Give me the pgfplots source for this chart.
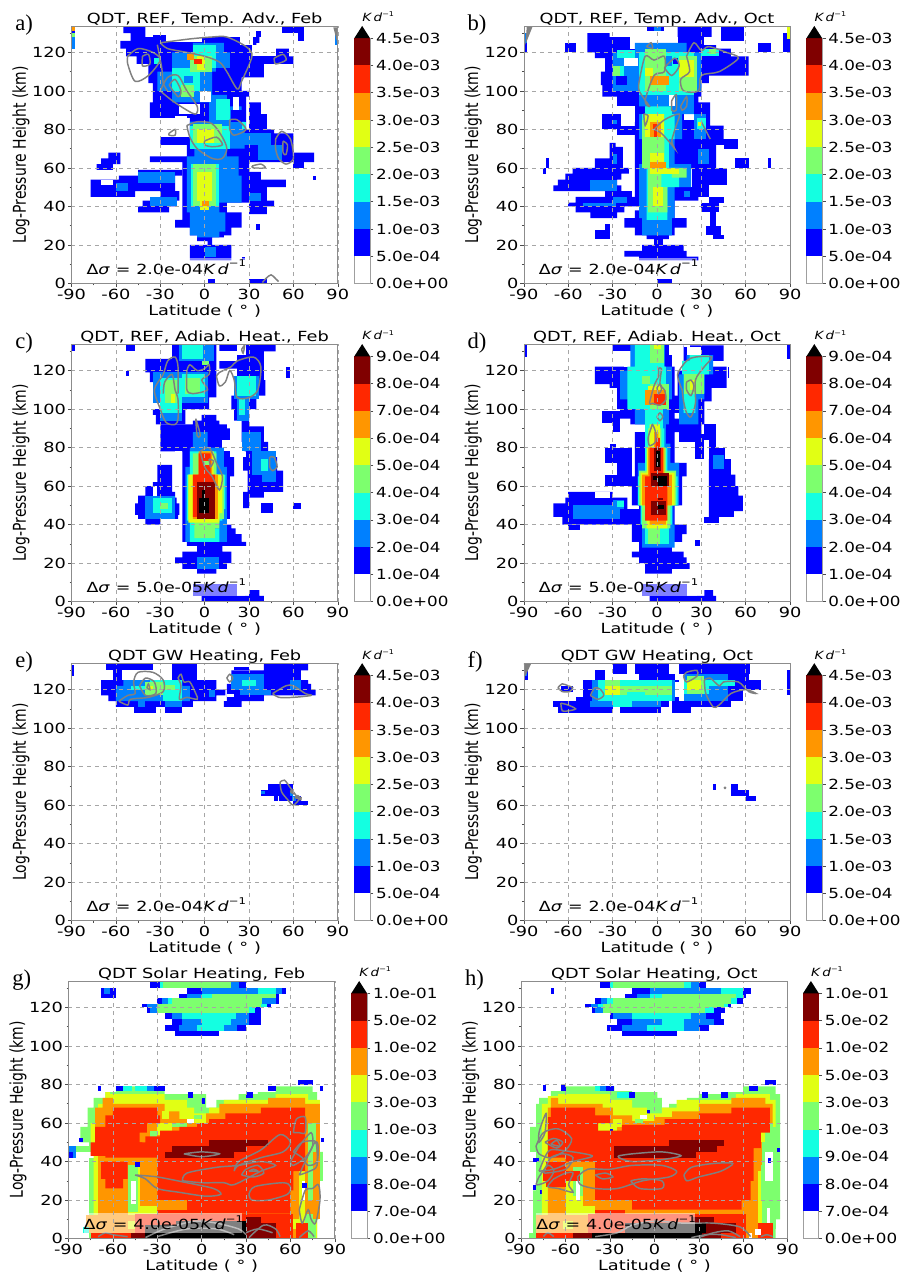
\documentclass[border=0pt]{standalone}
\usepackage{fontspec}
\setmainfont{DejaVu Sans}
\newfontfamily\serifl{Liberation Serif}
\usepackage{pgfplots}
\pgfplotsset{compat=1.18}
\definecolor{c1}{RGB}{0,0,255}
\definecolor{c2}{RGB}{0,128,255}
\definecolor{c3}{RGB}{20,255,225}
\definecolor{c4}{RGB}{125,255,110}
\definecolor{c5}{RGB}{225,255,20}
\definecolor{c6}{RGB}{255,150,0}
\definecolor{c7}{RGB}{255,40,0}
\definecolor{c8}{RGB}{128,0,0}
\definecolor{c9}{RGB}{0,0,0}
\definecolor{c0}{RGB}{255,255,255}
\newcommand\sx[1]{\scalebox{1.27}[1]{#1}}
\newcommand\sy[1]{\scalebox{1.2}[1]{#1}}
% stair polygon: each point = go horizontally to x, then vertically to y
\newcommand\Bk[2]{\addplot[const plot,fill=#1,draw=none] coordinates {#2} -- cycle;}
\newcommand\Rc[5]{\addplot[fill=#1,draw=none] coordinates {(#2,#4)(#3,#4)(#3,#5)(#2,#5)} -- cycle;}
\newcommand\Ct[1]{\addplot[color=gray,line width=1.1pt,smooth] coordinates {#1};}
% #1 left #2 bottom #3 title #4 letter #5 unused #6 note #7 data  (px)
\newcommand\hm[7]{%
\begin{axis}[at={(#1*0.75pt,{(1277-#2)*0.75pt})},anchor=south west,scale only axis,width=200.25pt,height=193.5pt,
 xmin=-90,xmax=90,ymin=0,ymax=133.6,xtick={-90,-60,-30,0,30,60,90},xticklabels={\sx{-90},\sx{-60},\sx{-30},\sx{0},\sx{30},\sx{60},\sx{90}},
 ytick={0,20,40,60,80,100,120},yticklabels={\sx{0},\sx{20},\sx{40},\sx{60},\sx{80},\sx{100},\sx{120}},
 minor xtick={-75,-45,-15,15,45,75},minor ytick={10,30,50,70,90,110,130},
 grid=major,grid style={dashed,gray!70,line width=0.4pt},axis on top,
 axis line style={gray!90,line width=0.5pt},tick style={black!70,line width=0.4pt},major tick length=2.6pt,minor tick length=1.4pt,tick align=outside,
 xtick pos=bottom,ytick pos=left,tick label style={font=\fontsize{10.5}{12}\selectfont},
 xticklabel style={yshift=2pt},yticklabel style={xshift=2pt},
 clip mode=individual]
#7
\node[anchor=west,fill=white,fill opacity=.5,text opacity=1,inner xsep=0pt,inner ysep=0pt,minimum height=15pt,text width=119pt,font=\fontsize{10.5}{12}\selectfont] at (axis cs:-80,8.3) {\scalebox{1.25}[1]{Δ\textit{σ} = #6\textit{K\,d}\raisebox{1ex}{\scriptsize −1}}};
\node[font=\fontsize{10.5}{12}\selectfont,anchor=base] at (rel axis cs:0.5,1.012) {\sx{#3}};
\node[font=\fontsize{10.5}{12}\selectfont,anchor=base] at (rel axis cs:0.5,-0.125) {\sx{Latitude ( ° )}};
\node[font=\fontsize{10.5}{12}\selectfont] at (rel axis cs:-0.19,0.5) {\scalebox{1.27}[1]{\rotatebox{90}{Log-Pressure Height (km)}}};
\node[font=\serifl\fontsize{17}{18}\selectfont,anchor=base west,inner sep=0pt] at (rel axis cs:-0.212,0.985) {#4};
\draw[gray!55,line width=0.9pt] (rel axis cs:0,1)--(rel axis cs:1,1)--(rel axis cs:1,0);
\end{axis}}
% #1 left #2 bottom #3 ticklabel style
\newcommand\cb[3]{%
\begin{axis}[at={(#1*0.75pt,{(1277-#2)*0.75pt})},anchor=south west,scale only axis,width=11.8pt,height=184.5pt,
 xmin=0,xmax=1,ymin=0,ymax=9,xtick=\empty,ytick={0,1,2,3,4,5,6,7,8,9},#3,ytick pos=right,yticklabel pos=right,clip=false,
 axis line style={gray!75,line width=0.6pt},tick style={black!70,line width=0.4pt},major tick length=2.6pt,tick align=outside,
 tick label style={font=\fontsize{10.5}{12}\selectfont},yticklabel style={xshift=-1.5pt}]
\Rc{c1}{0}{1}{1}{2}\Rc{c2}{0}{1}{2}{3}\Rc{c3}{0}{1}{3}{4}\Rc{c4}{0}{1}{4}{5}\Rc{c5}{0}{1}{5}{6}\Rc{c6}{0}{1}{6}{7}\Rc{c7}{0}{1}{7}{8}\Rc{c8}{0}{1}{8}{9}
\addplot[fill=black,draw=none] coordinates {(0,9)(1,9)(0.5,9.45)} -- cycle;
\node[font=\fontsize{8.5}{9}\selectfont,anchor=base west,inner sep=0pt] at (axis cs:0.5,9.6) {\sy{\textit{K\,d}\raisebox{.8ex}{\tiny −1}}};
\end{axis}}
\pgfplotsset{La/.style={yticklabels={\sy{0.0e+00},\sy{5.0e-04},\sy{1.0e-03},\sy{1.5e-03},\sy{2.0e-03},\sy{2.5e-03},\sy{3.0e-03},\sy{3.5e-03},\sy{4.0e-03},\sy{4.5e-03}}},
Lb/.style={yticklabels={\sy{0.0e+00},\sy{1.0e-04},\sy{2.0e-04},\sy{3.0e-04},\sy{4.0e-04},\sy{5.0e-04},\sy{6.0e-04},\sy{7.0e-04},\sy{8.0e-04},\sy{9.0e-04}}},
Lc/.style={yticklabels={\sy{0.0e+00},\sy{7.0e-04},\sy{8.0e-04},\sy{9.0e-04},\sy{1.0e-03},\sy{3.0e-03},\sy{5.0e-03},\sy{1.0e-02},\sy{5.0e-02},\sy{1.0e-01}}}}
% ---------- panel a
\newcommand\dataA{
\Bk{c1}{(-10,12)(18,20)(5,24)(13,25)(18,29)(25,37)(15,42)(30,80)(28,97)(30,100)(25,107)(40,114)(60,118)(57,122)(35,125)(37,128)(-40,134)(-55,130)(-50,126)(-57,122)(-53,118)(-46,114)(-38,104)(-35,94)(-37,86)(-10,76)(-30,72)(-12,66)(-37,63)(-15,37)(-15,33)(-20,29)(-10,25)(-5,22)(2,20)(-10,12)}
\Rc{c0}{-28}{-2}{125.5}{128}\Rc{c0}{-17}{-3}{88}{93}\Rc{c0}{-3}{4}{94}{100}\Rc{c0}{19}{23}{90}{97}\Rc{c0}{-20}{-12}{80}{87}\Rc{c0}{24}{33}{124}{128}\Rc{c0}{32}{48}{118}{124}
\Rc{c1}{-35}{-26}{125}{129}\Rc{c1}{52}{67}{130}{134}\Rc{c1}{63}{67}{126}{130}\Rc{c1}{35}{38}{128}{131}
\Bk{c1}{(30,36)(42,40)(47,43)(42,50)(55,54)(38,58)(30,36)}
\Bk{c1}{(30,63)(74,68)(60,78)(47,80)(42,88)(38,94)(30,63)}
\Rc{c1}{60}{67}{60}{63}\Rc{c1}{73}{75.5}{54}{56}\Rc{c1}{35}{37.5}{28}{31}\Rc{c1}{30}{42}{0}{2.5}\Rc{c1}{2}{7}{0}{2.5}\Rc{c1}{25}{27}{12}{14}
\Bk{c1}{(-45,37)(-24,40)(-19,43)(-17,48)(-20,56)(-15,59)(-45,56)(-58,54)(-77,45)(-47,48)(-30,43)(-42,40)(-45,37)}
\Rc{c0}{-70}{-62}{51}{54}
\Bk{c1}{(-73,59)(-62,62)(-57,68)(-65,65)(-70,62)(-73,59)}
\Rc{c1}{-90}{-87.5}{122}{134}\Rc{c2}{-90}{-87.5}{122}{128}\Rc{c4}{-90}{-87.5}{128}{130}\Rc{c6}{-90}{-87.5}{131}{134}\Rc{c2}{88}{90}{124}{131}
\Bk{c2}{(-5,24)(10,27)(14,37)(10,42)(25,56)(23,66)(15,70)(27,84)(25,92)(15,98)(5,110)(17,120)(13,125)(-8,120)(-22,110)(-32,100)(-22,94)(3,84)(-10,70)(-7,66)(-12,37)(-10,25)(-5,24)}
\Rc{c0}{-17}{-3}{88}{93}\Rc{c0}{-3}{4}{94}{100}\Rc{c0}{19}{23}{90}{97}
\Rc{c1}{18}{25}{84}{90}\Rc{c1}{8}{17}{105}{112}
\Rc{c2}{0}{8}{14}{19}
\Rc{c2}{-37}{-19}{40}{45}\Rc{c2}{-60}{-52}{48}{52}\Rc{c2}{-45}{-20}{52}{58}\Rc{c2}{20}{45}{72}{78}\Rc{c2}{36}{52}{64}{72}\Rc{c2}{30}{38}{43}{47}
\Rc{c3}{-10}{17}{70}{82}\Rc{c3}{8}{17}{85}{96}\Rc{c3}{-22}{-3}{100}{112}\Rc{c3}{-8}{8}{112}{124}\Rc{c3}{-9}{10}{40}{62}\Rc{c3}{-34}{-30}{114}{117}
\Rc{c2}{-14}{-8}{104}{108}
\Rc{c4}{-8}{8}{40}{62}\Rc{c4}{-8}{12}{73}{83}\Rc{c4}{-10}{5}{110}{118}\Rc{c4}{-16}{-7}{97}{103}\Rc{c3}{25}{28}{80}{84}
\Rc{c5}{-5}{5}{43}{58}\Rc{c5}{-5}{6}{73}{80}\Rc{c5}{-5}{0}{111}{118}\Rc{c5}{-3}{3}{38}{43}
\Rc{c6}{-2}{3}{40.5}{43}\Rc{c6}{-12}{-7}{116}{119}\Rc{c7}{-7}{-2}{114}{116.5}
\Ct{(-52,118)(-45,122)(-35,120)(-30,116)(-38,108)(-47,105)(-52,114)(-52,118)}
\Ct{(-42,118)(-38,119)(-37,114)(-42,113)(-42,118)}
\Ct{(-30,100)(-25,107)(-18,108)(-12,100)(-5,92)(-6,88)(-12,90)(-22,95)(-30,100)}
\Ct{(-24,103)(-20,106)(-16,100)(-18,97)(-24,103)}
\Ct{(-30,125)(-10,127)(5,128)(15,128)(28,123)(32,118)(25,105)(22,101)(15,110)(10,115)(0,118)(-12,120)(-25,122)(-30,125)}
\Ct{(-32,124)(-29,112)(-28,104)(-25,100)}
\Ct{(-12,82)(-5,84)(5,83)(12,76)(15,70)(12,65)(5,65)(-5,70)(-10,76)(-12,82)}
\Ct{(0,74)(8,76)(12,72)(5,71)(0,72)(0,74)}
\Ct{(-24,78)(-20,80)(-20,77)(-24,77)(-24,78)}
\Ct{(17,85)(22,85)(28,80)(20,77)(17,80)(17,85)}
\Ct{(48,75)(52,79)(58,75)(60,65)(55,62)(50,65)(48,70)(48,75)}
\Ct{(53,74)(56,72)(55,67)(53,68)(53,74)}
\Ct{(32,61)(38,62)(41,60)(33,60)(32,61)}
\Ct{(39,0.5)(42,3)(45,4.5)(48,2.5)(50,1)}
\Ct{(47,117)(53,119)(55,116)(48,114)(47,117)}
\addplot[fill=gray,draw=none] coordinates {(87,133)(90,133)(90,124)} -- cycle;
}
% ---------- panel b
\newcommand\dataB{
\Bk{c1}{(-12,12)(28,14)(20,17)(18,20)(4,23)(8,25)(12,29)(20,34)(12,43)(28,50)(20,60)(40,72)(52,75)(45,82)(36,94)(28,97)(30,104)(35,108)(62,118)(50,122)(40,125)(37,133.6)(14,128)(-32,130)(-47,120)(-42,117)(-35,110)(-38,103)(-37,97)(-27,92)(-15,43)(-12,38)(-15,34)(-22,29)(-15,25)(-7,23)(-2,20)(-10,17)(-22,14)(-12,12)}
\Rc{c0}{-12}{14}{124.5}{128}\Rc{c0}{-27}{-15}{84}{92}\Rc{c0}{-18}{-12}{122}{130}\Rc{c0}{32}{44}{124}{128}\Rc{c0}{5}{15}{92}{96}\Rc{c0}{18}{25}{85}{92}
\Rc{c1}{43}{59}{126}{133.6}\Rc{c1}{-7}{5}{131}{133.6}\Rc{c1}{-62}{-55}{120}{125}\Rc{c1}{68}{77}{120}{125}\Rc{c1}{85}{90}{120}{130}\Rc{c1}{-90}{-88}{120}{130}
\Rc{c2}{-90}{-88}{125}{130}\Rc{c5}{88}{90}{127}{133.6}\Rc{c1}{-38}{-35}{125}{128}
\Rc{c1}{-37}{-24}{80}{88}\Rc{c1}{-27}{-13}{77}{82}
\Bk{c1}{(-42,60)(-23,71)(-28,73)(-32,65)(-42,60)}
\Bk{c1}{(-45,34)(-27,37)(-22,40)(-10,45)(-17,48)(-24,51)(-27,54)(-24,57)(-19,60)(-57,57)(-62,54)(-67,51)(-70,48)(-35,45)(-55,42)(-60,40)(-55,37)(-45,34)}
\Rc{c1}{-42}{-32}{23}{28}\Rc{c1}{-35}{-32}{28}{31}
\Rc{c1}{24}{47}{51}{60}\Rc{c1}{24}{35}{45}{52}\Rc{c1}{35}{45}{42}{45}\Rc{c1}{30}{42}{37}{42}\Rc{c1}{36}{40}{30}{37}\Rc{c1}{33}{43}{25}{30}\Rc{c1}{38}{45}{23}{25}
\Rc{c1}{53}{62}{60}{65}\Rc{c1}{75}{77}{60}{65}\Rc{c1}{-75}{-73}{60}{65}\Rc{c1}{-77}{-75}{57}{60}\Rc{c1}{0}{10}{0}{2.5}\Rc{c1}{45}{55}{70}{75}
\Bk{c2}{(-10,25)(10,34)(12,50)(23,62)(12,75)(17,88)(25,100)(30,120)(20,125)(-15,120)(-30,100)(-12,92)(-8,88)(-12,75)(-8,62)(-12,34)(-10,25)}
\Rc{c2}{-2}{3}{131}{133.6}\Rc{c2}{25}{33}{75}{88}\Rc{c2}{-45}{-27}{48}{54}\Rc{c2}{-50}{-28}{40}{42}\Rc{c2}{-30}{-20}{42}{45}\Rc{c2}{18}{22}{45}{48}\Rc{c2}{28}{35}{62}{70}\Rc{c2}{-30}{-27}{62}{67}\Rc{c2}{-30}{-27}{83}{85}
\Rc{c1}{-28}{-20}{103}{108}\Rc{c0}{-22}{-13}{113}{117}\Rc{c0}{8}{12}{92}{98}
\Bk{c3}{(-7,33)(7,50)(15,60)(8,75)(12,88)(10,92)(-8,88)(-10,60)(-7,33)}
\Rc{c3}{27}{33}{80}{86}\Rc{c3}{-30}{-22}{108}{113}\Rc{c3}{-27}{-15}{117}{121}\Rc{c3}{-12}{25}{98}{120}\Rc{c3}{30}{42}{118}{122}
\Rc{c2}{5}{10}{113}{118}\Rc{c1}{11}{14}{114}{117}
\Bk{c4}{(-6,37)(7,50)(3,60)(20,55)(10,60)(5,72)(5,88)(-7,85)(-10,60)(-6,37)}
\Rc{c4}{-30}{-25}{108}{113}\Rc{c4}{-8}{6}{100}{122}\Rc{c4}{15}{27}{100}{118}\Rc{c4}{35}{40}{119}{122}
\Rc{c5}{-3}{4}{40}{50}\Rc{c5}{-5}{5}{62}{68}\Rc{c5}{15}{25}{107}{116}\Rc{c5}{-5}{15}{57}{60}\Rc{c5}{-8}{5}{76}{88}\Rc{c5}{-8}{-3}{108}{112}\Rc{c5}{28}{30}{82}{84}
\Rc{c6}{-5}{6}{60}{63}\Rc{c6}{-5}{8}{103}{108}\Rc{c6}{-5}{3}{76}{84}\Rc{c7}{-3}{0}{80}{83}\Rc{c7}{-2}{0}{76}{80}
\Ct{(-12,105)(-8,118)(-2,116)(5,118)(5,110)(-2,108)(-8,95)(-5,92)(-12,100)(-12,105)}
\Ct{(5,112)(12,117)(15,113)(10,108)(5,112)}
\Ct{(-7,123)(-4,125)(-3,122)(-7,123)}
\Ct{(20,118)(25,125)(30,121)(35,123)(47,120)(55,117)(42,110)(30,108)(28,100)(18,100)(16,106)(22,110)(20,118)}
\Ct{(10,95)(13,98)(13,90)(10,90)(10,95)}
\Ct{(16,92)(20,97)(20,92)(17,90)(16,92)}
\Ct{(-9,88)(-6,87)(-8,82)(-9,88)}
\Ct{(-2,80)(5,85)(15,88)(13,82)(10,74)(12,70)(10,72)(3,78)(-2,80)}
\Ct{(30,84)(36,75)(30,84)}
\addplot[fill=gray,draw=none] coordinates {(-88,133.6)(-84,133.6)(-89,124)} -- cycle;
}
% ---------- panel c
\newcommand\dataC{
\Bk{c1}{(-2,0)(40,3)(37,6)(30,3)(-2,0)}\Rc{c1}{-8}{22}{3}{9}
\Bk{c1}{(-5,14.5)(8,17)(15,20)(18,26)(12,29)(28,31)(25,35)(21,38)(18,40)(15,43)(17,65)(20,75)(17,90)(15,92)(10,94)(8,97)(-2,94)(-8,92)(-30,78)(-15,31)(-12,29)(-5,26)(-15,23)(-20,20)(-15,17)(-5,14.5)}
\Rc{c0}{-20}{-15}{74}{78}\Rc{c0}{12}{18}{78}{84}
\Bk{c1}{(-40,40)(-30,43)(-18,45)(-17,51)(-19,54)(-20,57)(-22,71)(-32,62)(-35,60)(-40,55)(-45,51)(-47,45)(-45,43)(-40,40)}
\Rc{c0}{-35}{-32}{55}{60}
\Bk{c1}{(26,48.5)(30,54)(40,57)(53,68)(49,75)(45,78)(43,83)(40,91)(30,100)(35,107)(41,115)(40,130)(48,134)(10,121)(22,107)(18,100)(20,94)(25,83)(27,78)(28,75)(26,68)(29,57)(26,48.5)}
\Rc{c0}{10}{22}{125}{130}\Rc{c0}{22}{28}{128}{134}
\Bk{c1}{(-33,92)(-13,100)(3,106)(8,134)(-22,126)(-40,119)(-37,114)(-33,106)(-30,100)(-35,97)(-33,92)}
\Rc{c1}{38}{46}{46}{51}\Rc{c1}{60}{65}{48}{51}\Rc{c1}{-90}{-87.5}{130}{134}\Rc{c1}{-53}{-47}{130}{133}\Rc{c1}{-53}{-51}{117}{120}\Rc{c1}{55}{57.5}{116}{122}
\Rc{c2}{-5}{10}{17}{23}
\Bk{c2}{(-12,31)(15,38)(15,70)(13,80)(2,88)(-8,80)(-10,70)(-13,31)}
\Rc{c2}{-40}{-20}{43}{55}\Rc{c2}{25}{38}{78}{88}\Rc{c2}{32}{48}{66}{78}\Rc{c2}{39}{48}{62}{66}
\Rc{c2}{20}{37}{105}{117}\Rc{c2}{22}{30}{94}{105}\Rc{c2}{-17}{6}{125}{134}\Rc{c2}{-35}{2}{103}{119}\Rc{c2}{-30}{-15}{94}{103}
\Bk{c3}{(-10,31)(10,38)(6,42)(12,48)(14,66)(8,78)(-10,66)(-12,42)(-10,31)}
\Rc{c3}{-35}{-22}{46}{54}\Rc{c3}{-15}{-1}{126}{134}\Rc{c3}{-30}{-15}{98}{116}\Rc{c3}{-15}{0}{106}{118}\Rc{c3}{22}{35}{107}{117}\Rc{c3}{23}{27}{97}{105}\Rc{c3}{38}{43}{68}{74}
\Bk{c4}{(-7,33)(7,38)(10,43)(13,66)(8,77)(-8,66)(-11,43)(-7,33)}
\Rc{c4}{-30}{-25}{48}{51}\Rc{c4}{-27}{-19}{103}{115}\Rc{c4}{-13}{-3}{108}{116}\Rc{c4}{-2}{3}{123}{125}
\Rc{c5}{-23}{-20}{103}{108}
\Bk{c5}{(-10,41)(10,46)(12,66)(6,78)(-3,66)(-11,41)}
\Bk{c6}{(-8,43)(9,66)(5,78)(-4,66)(-8,43)}
\Bk{c7}{(-6,44)(7,66)(4,77)(-4,66)(-8,44)}
\Rc{c8}{-5}{7}{43}{62}\Rc{c4}{-1}{3}{71}{73}
\Rc{c9}{-2}{0}{54}{58}\Rc{c9}{-4}{3}{46}{54}
\Ct{(-28,108)(-27,114)(-22,118)(-20,110)(-18,105)(-18,95)(-20,92)(-26,93)(-30,100)(-34,110)(-28,118)(-25,125)(-20,127)(-18,122)(-18,108)}
\Ct{(-12,120)(-10,123)(-5,120)(0,121)(3,123)(3,118)(-2,115)(2,110)(-8,108)(-12,110)(-12,120)}
\Ct{(8,117)(10,119)(18,122)(22,125)(33,127)(38,122)(36,110)(30,106)(22,106)(20,115)(17,120)(14,114)(10,112)(8,117)}
\Ct{(-6,95)(-4,90)(-3,86)(-5,86)(-6,95)}
\Ct{(-3,78)(3,80)(8,72)(12,65)(10,58)(5,65)(0,70)(-3,78)}
\Ct{(3,74)(6,73)(4,70)(3,74)}
\Ct{(44,75)(47,75)(49,70)(46,68)(44,70)(44,75)}
\Ct{(25,131)(27,133)(26,129)(25,131)}
}
% ---------- panel d
\newcommand\dataD{
\Bk{c1}{(-5,0)(40,3)(38,6)(32,3)(-5,0)}\Rc{c1}{-10}{20}{3}{9}
\Bk{c1}{(-8,14.5)(10,17)(22,20)(20,23)(18,26)(10,31)(17,35)(20,40)(12,50)(17,65)(20,72)(12,78)(12,88)(21,92)(28,95)(12,98)(16,107)(12,122)(10,134)(-30,130)(-22,122)(-42,113)(-32,111)(-27,100)(-25,95)(-18,92)(-8,88)(-15,65)(-17,50)(-12,44)(-17,31)(-12,26)(-17,23)(-12,20)(-8,14.5)}
\Rc{c0}{-35}{-10}{124}{130}\Rc{c0}{-22}{-8}{122}{124}\Rc{c0}{8}{12}{128}{133}
\Bk{c1}{(15,83)(30,92)(32,104)(37,111)(47,122)(37,125)(45,133)(18,120)(14,104)(15,83)}
\Rc{c0}{20}{30}{128}{132}\Rc{c0}{18}{22}{132}{134}
\Rc{c1}{26}{32}{74}{87}\Rc{c1}{32}{40}{84}{92}\Rc{c1}{35}{40}{80}{85}\Rc{c1}{35}{46}{74}{80}
\Bk{c1}{(35,44)(52,47)(58,55)(55,60)(53,66)(50,74)(35,44)}
\Rc{c1}{32}{42}{41}{44}
\Bk{c1}{(-64,40)(-12,48)(-20,54)(-30,57)(-60,54)(-62,51)(-70,44)(-64,40)}
\Rc{c1}{-60}{-52}{37}{40}\Rc{c0}{-42}{-32}{54}{57}
\Rc{c1}{-35}{-17}{60}{66}\Rc{c1}{-27}{-17}{66}{72}\Rc{c1}{-35}{-17}{72}{80}\Rc{c1}{-32}{-28}{80}{82}\Rc{c1}{-37}{-25}{93}{99}\Rc{c1}{-30}{-25}{88}{93}\Rc{c1}{-15}{-12}{85}{88}\Rc{c1}{88}{90}{126}{133.6}\Rc{c1}{-90}{-88}{127}{133.6}\Rc{c1}{26}{29}{29}{32}
\Rc{c1}{48}{49}{116}{122}
\Rc{c2}{-57}{-25}{43}{50}\Rc{c2}{-30}{-22}{48}{53}\Rc{c2}{38}{45}{69}{76}
\Bk{c2}{(-10,28)(12,40)(11,50)(15,72)(9,82)(6,92)(8,105)(10,122)(5,134)(-18,120)(-25,105)(-15,92)(-8,72)(-13,50)(-10,28)}
\Bk{c2}{(15,92)(28,105)(32,118)(38,128)(20,118)(15,92)}
\Bk{c3}{(-8,30)(8,40)(10,50)(14,65)(7,80)(5,90)(4,105)(6,122)(5,134)(-15,122)(-20,100)(-8,65)(-13,50)(-11,40)(-8,30)}
\Bk{c3}{(18,98)(26,108)(32,118)(35,128)(22,125)(17,118)(18,98)}
\Rc{c3}{-27}{-22}{49}{52}
\Bk{c4}{(-6,30)(2,38)(9,50)(13,68)(6,80)(3,90)(-6,68)(-12,50)(-10,38)(-6,30)}
\Rc{c4}{-5}{5}{124}{134}\Rc{c4}{-10}{-5}{113}{117}\Rc{c4}{18}{32}{108}{118}\Rc{c4}{-5}{8}{100}{113}
\Bk{c5}{(-7,38)(7,50)(12,67)(5,80)(2,92)(-5,80)(-7,67)(-11,50)(-7,38)}
\Rc{c5}{22}{26}{110}{115}\Rc{c5}{-2}{3}{131}{134}\Rc{c5}{-6}{4}{108}{112}
\Bk{c6}{(-5,40)(6,50)(10,66)(5,80)(1,88)(-2,80)(-6,66)(-10,50)(-5,40)}
\Rc{c6}{-8}{6}{102}{110}
\Bk{c7}{(-5,42)(7,65)(4,80)(2,85)(-1,80)(-5,65)(-8,42)}
\Rc{c7}{-2}{6}{102}{108}
\Rc{c8}{-4}{6}{45}{52}\Rc{c8}{-4}{8}{60}{67}\Rc{c8}{-2}{3}{68}{80}\Rc{c8}{1}{4}{53}{54}
\Rc{c9}{1}{5}{48}{50}\Rc{c9}{-3}{0}{63}{65}\Rc{c9}{1}{7}{60}{65}\Rc{c9}{-1}{2}{70}{78}
\Ct{(1,121)(3,121)(2,113)(5,110)(6,105)(2,102)(-3,103)(-5,103)(-2,112)(1,117)(1,121)}
\Ct{(0,111)(2,113)(3,110)(1,108)(0,111)}
\Ct{(0,96)(2,98)(4,96)(2,94)(0,96)}
\Ct{(-4,90)(-3,92)(-1,88)(-1,83)(-5,81)(-6,85)(-4,90)}
\Ct{(17,110)(14,118)(20,125)(26,127)(37,127)(32,122)(26,115)(26,103)(23,96)(20,98)(18,104)(17,110)}
\Ct{(20,114)(23,115)(25,112)(23,107)(20,110)(20,114)}
}
% ---------- panel e
\newcommand\dataE{
\Rc{c1}{-67}{-35}{130}{134}\Rc{c1}{-62}{-56}{125}{130}\Rc{c1}{-22}{-5}{125}{134}
\Rc{c1}{-48}{-33}{108}{111}\Rc{c1}{-27}{-15}{108}{111}
\Bk{c1}{(-60,111)(-8,114)(8,117)(14,120)(8,125)(-70,117)(-65,114)(-60,111)}
\Bk{c1}{(13,111)(25,114)(40,117)(75,120)(72,123)(70,125)(65,130)(70,134)(40,130)(18,123)(15,114)(13,111)}
\Rc{c1}{20}{30}{130}{132}\Rc{c0}{15}{20}{116}{118}\Rc{c1}{-90}{-88}{127}{133}
\Bk{c2}{(-60,114)(-10,122)(-15,125)(-55,122)(-60,114)}
\Rc{c2}{-27}{-15}{111}{114}\Rc{c2}{-45}{-40}{111}{114}\Rc{c2}{3}{7}{116}{120}\Rc{c2}{18}{40}{120}{128}\Rc{c2}{24}{45}{117}{120}\Rc{c2}{58}{65}{120}{125}
\Rc{c3}{-28}{-15}{114}{125}\Rc{c3}{-37}{-28}{117}{125}\Rc{c3}{-50}{-37}{120}{122}\Rc{c3}{25}{35}{122}{125}
\Rc{c4}{-28}{-20}{120}{122.5}\Rc{c4}{-40}{-28}{117}{124}\Rc{c5}{-38}{-35}{120}{122}
\Rc{c1}{43}{60}{68}{71}\Rc{c1}{38}{60}{65}{68}\Rc{c1}{47}{49.5}{62}{65}\Rc{c1}{50}{65}{62}{65}\Rc{c1}{60}{70}{60}{62}\Rc{c0}{43}{47}{62}{65}
\Rc{c2}{58}{60}{65}{67}\Rc{c2}{59}{62}{62}{65}\Rc{c2}{38}{40.5}{66}{67.5}
\Ct{(-58,114)(-52,117)(-47,118)(-48,124)(-45,129)(-35,129)(-28,125)(-28,119)(-38,116)(-50,115)(-52,112)(-58,114)}
\Ct{(-44,122)(-40,126)(-34,124)(-33,118)(-40,117)(-44,122)}
\Ct{(-39,121)(-38,123)(-37,120)(-39,121)}
\Ct{(-18,126)(-16,128)(-14,124)(-10,124)(-6,118)(-5,115)(-12,116)(-17,115)(-16,122)(-18,126)}
\Ct{(15,126)(17,128)(19,126)(17,124)(15,126)}
\Ct{(46,118)(55,122)(60,122)(68,118)(72,117)(60,116)(50,116)(46,118)}
\Ct{(51,72)(54,73)(58,69)(64,63)(65,64)(60,60)(56,63)(52,67)(51,72)}
\Ct{(58,67)(59,68)(60,66)(58,67)}
\Ct{(61,64)(63,65)(65,63)(61,64)}
}
% ---------- panel f
\newcommand\dataF{
\Rc{c1}{-30}{-20}{128}{134}\Rc{c1}{-15}{8}{128}{134}\Rc{c1}{15}{63}{128}{134}\Rc{c1}{-42}{-35}{125}{130}\Rc{c1}{-12}{12}{125}{128}
\Rc{c1}{-55}{15}{114}{125}\Rc{c1}{-70}{8}{111}{114}\Rc{c1}{-67}{-30}{108}{111}\Rc{c1}{-25}{3}{108}{111}\Rc{c1}{10}{23}{108}{111}
\Rc{c1}{18}{70}{120}{125}\Rc{c1}{18}{58}{114}{120}\Rc{c1}{10}{50}{111}{114}\Rc{c1}{18}{62}{125}{128}\Rc{c1}{-65}{-57}{119}{122}
\Rc{c0}{-55}{-50}{116}{125}\Rc{c0}{12}{15}{116}{124}
\Rc{c2}{-44}{12}{114}{125}\Rc{c2}{-45}{3}{111}{114}\Rc{c2}{18}{48}{114}{128}
\Rc{c3}{-40}{10}{114}{125}\Rc{c3}{-30}{-17}{111}{114}\Rc{c3}{18}{35}{118}{125}\Rc{c3}{35}{53}{122}{125}
\Rc{c4}{-35}{-25}{117}{125}\Rc{c4}{-25}{10}{117}{122}\Rc{c4}{20}{32}{118}{127}
\Rc{c3}{-20}{-8}{117}{119}
\Rc{c5}{-35}{-25}{117}{122}\Rc{c5}{20}{30}{120}{125}
\Rc{c1}{88}{90}{117}{130}\Rc{c1}{-90}{-87}{125}{133}\Rc{c2}{-90}{-88}{127}{131}
\Rc{c1}{38}{40}{68}{71}\Rc{c1}{50}{55}{65}{71}\Rc{c1}{55}{62}{65}{68}\Rc{c1}{60}{67}{62}{65}
\addplot[fill=gray,draw=none] coordinates {(-90,133.6)(-85,133.6)(-89,127)} -- cycle;
\Ct{(-67,121)(-64,123)(-60,122)(-57,121)(-59,119)(-64,119)(-67,121)}
\Ct{(-45,117)(-42,121)(-38,120)(-36,117)(-40,115)(-45,117)}
\Ct{(-65,113)(-60,112)(-55,110)(-60,109)(-64,109)(-65,113)}
\Ct{(18,127)(20,129)(27,130)(27,127)(20,124)(18,127)}
\Ct{(32,125)(36,126)(42,122)(45,124)(55,124)(62,119)(67,118)(60,120)(50,118)(42,112)(38,111)(33,118)(32,125)}
\addplot[only marks,mark=*,mark size=0.9pt,color=gray] coordinates {(46,69)};
}
% ---------- panel g
\newcommand\dataG{
\Rc{c1}{-35}{30}{130}{133.6}\Rc{c4}{-28}{20}{130}{133.6}\Rc{c3}{-28}{-26}{130}{133.6}\Rc{c2}{20}{25}{130}{133.6}
\Rc{c1}{-10}{57}{127}{130}\Rc{c2}{0}{38}{127}{130}\Rc{c3}{38}{50}{127}{130}\Rc{c2}{50}{54}{127}{130}
\Rc{c1}{-15}{52}{125}{127}\Rc{c2}{-10}{0}{125}{127}\Rc{c3}{0}{7}{125}{127}\Rc{c4}{7}{50}{125}{127}
\Rc{c1}{-30}{52}{122}{125}\Rc{c3}{-23}{-20}{122}{125}\Rc{c2}{-27}{-23}{122}{125}\Rc{c4}{-20}{41}{122}{125}\Rc{c2}{41}{50}{122}{125}
\Rc{c1}{-40}{47}{120}{122}\Rc{c2}{-37}{-30}{120}{122}\Rc{c4}{-30}{40}{120}{122}\Rc{c3}{40}{44}{120}{122}
\Rc{c1}{-37}{40}{117}{120}\Rc{c2}{-35}{-30}{117}{120}\Rc{c4}{-30}{32}{117}{120}\Rc{c3}{32}{36}{117}{120}
\Rc{c1}{-25}{40}{114}{117}\Rc{c2}{-20}{-13}{114}{117}\Rc{c3}{-13}{23}{114}{117}\Rc{c2}{23}{32}{114}{117}
\Rc{c1}{-20}{40}{111}{114}\Rc{c2}{-13}{0}{111}{114}\Rc{c3}{0}{20}{111}{114}\Rc{c2}{20}{32}{111}{114}
\Rc{c1}{-25}{30}{108}{111}\Rc{c2}{-15}{-3}{108}{111}\Rc{c3}{-3}{15}{108}{111}\Rc{c2}{15}{24}{108}{111}
\Rc{c1}{-18}{12}{105}{108}
\Rc{c1}{-68}{-58}{125}{130}\Rc{c2}{-66}{-62}{127}{130}
\Bk{c4}{(-76,0)(78,10)(79,30)(82,45)(80,65)(78,76)(75,79)(50,76)(38,75)(25,72)(10,68)(3,75)(-25,79)(-58,76)(-65,73)(-73,68)(-77,58)(-82,50)(-76,0)}
\Rc{c4}{-90}{-75}{42}{48}\Rc{c2}{-90}{-85}{42}{48}\Rc{c1}{-90}{-87}{42}{45}
\Rc{c0}{-85}{-66}{42}{45}\Rc{c4}{-66}{-58}{42}{45}
\Rc{c1}{-58}{-53}{76.5}{79}\Rc{c3}{-53}{-47}{76.5}{79}\Rc{c3}{-45}{-37}{76.5}{79}\Rc{c2}{-37}{-32}{76.5}{79}\Rc{c1}{-32}{-25}{76.5}{79}\Rc{c1}{-9}{-6}{73}{76}\Rc{c1}{45}{50}{76.5}{79}\Rc{c1}{65}{75}{80}{82.5}\Rc{c1}{80}{82}{76.5}{79}\Rc{c1}{-70}{-68}{76.5}{79}\Rc{c1}{-83}{-80}{50}{52}\Rc{c1}{81}{83}{50}{52}\Rc{c1}{30}{35}{73}{76}\Rc{c1}{0}{2}{70}{73}
\Bk{c5}{(-73,0)(78,20)(80,72)(72,75)(50,72)(15,68)(5,65)(-5,68)(-10,72)(-25,75)(-62,76)(-65,70)(-70,60)(-75,50)(-73,0)}
\Bk{c6}{(-70,0)(77,20)(80,70)(70,73)(45,70)(12,65)(3,60)(-5,62)(-15,66)(-25,70)(-60,73)(-67,68)(-72,50)(-70,0)}
\Rc{c5}{-50}{-30}{12}{38}\Rc{c4}{-50}{-43}{14}{38}\Rc{c0}{-47.5}{-44.5}{18}{30}\Rc{c1}{-45}{-42}{37}{40}\Rc{c6}{-42}{-30}{17}{38}\Rc{c5}{-27}{-22}{62}{66}\Rc{c0}{-10}{-5}{60}{62}\Rc{c4}{-5}{0}{62}{64}\Rc{c4}{-20}{-10}{58}{60}\Rc{c5}{-30}{-20}{54}{60}\Rc{c4}{-35}{-30}{52}{56}
\Rc{c4}{68}{77}{0}{13}\Rc{c5}{62}{70}{5}{45}\Rc{c6}{62}{66}{10}{45}\Rc{c0}{68}{70}{20}{30}\Rc{c4}{72}{77}{20}{60}\Rc{c6}{75}{80}{10}{45}\Rc{c1}{68}{71}{26}{29}
\Bk{c7}{(-75,43)(-40,50)(-42,55)(-37,60)(-28,64)(-30,68)(-60,64)(-65,58)(-72,50)(-75,43)}
\Bk{c7}{(-30,13)(60,25)(62,35)(70,68)(40,65)(16,62)(5,60)(-3,58)(-15,56)(-28,53)(-38,50)(-45,47)(-65,42)(-30,13)}
\Rc{c6}{-30}{-10}{15}{20}
\Bk{c7}{(-65,26)(-53,31)(-50,40)(-68,31)(-65,26)}
\Rc{c7}{-75}{-45}{0}{3}\Rc{c7}{-45}{62}{0}{13}\Rc{c7}{64}{72}{0}{8}\Rc{c6}{-78}{-45}{3}{12}\Rc{c3}{-80}{-76}{3}{6}\Rc{c5}{-50}{-45}{5}{9}
\Rc{c8}{-48}{50}{0}{3}\Rc{c8}{20}{50}{3}{8}\Rc{c8}{30}{40}{8}{11}
\Rc{c9}{-38}{30}{0}{7}\Rc{c9}{-17}{30}{7}{9}
\Rc{c8}{5}{45}{48}{51}\Rc{c8}{-20}{30}{45}{48}\Rc{c8}{-25}{22}{42}{45}
\Ct{(-45,33)(-38,31)(-30,26)(-15,24)(3,22)(13,23)(8,26)(-10,29)(-30,32)(-45,33)}
\Ct{(-13,30)(-10,34)(10,37)(25,38)(40,40)(50,38)(40,35)(22,28)(15,29)(0,29)(-13,30)}
\Ct{(-12,44)(0,45)(12,44)(0,42.5)(-12,44)}
\Ct{(22,35)(25,40)(40,46)(53,54)(60,50)(55,45)(40,42)(25,38)(22,35)}
\Ct{(27,33)(30,36)(38,38)(42,34)(35,32)(27,33)}
\Ct{(32,35)(35,36)(38,35)(32,35)}
\Ct{(32,23)(36,27)(55,29)(60,27)(58,23)(45,20)(34,20)(32,23)}
\Ct{(60,40)(66,48)(74,55)(75,48)(70,42)(62,38)(60,40)}
\Ct{(62,45)(68,50)(78,50)(78,40)(72,38)(68,42)(62,45)}
\Ct{(66,33)(70,40)(77,50)(78,38)(73,35)(66,33)}
\Ct{(62,55)(64,62)(70,63)(70,55)(66,55)(62,55)}
\Ct{(66,15)(70,25)(75,26)(79,28)(80,20)(77,8)(74,10)(72,15)(68,8)(66,15)}
\Ct{(-70,1)(-65,3)(-60,2)(-50,1)}
\Ct{(-38,0.5)(-25,5)(-5,9)(10,8)(25,5)(30,2)}
\Ct{(-30,1)(-10,5)(10,5)(22,2)}
\Ct{(32,0.5)(42,7)(50,5)(53,1)}
\Ct{(30,3)(38,5)(48,3)}
\Ct{(66,0.5)(72,4)(76,1)}
}
% ---------- panel h
\newcommand\dataH{
\Rc{c1}{-37}{35}{130}{133.6}\Rc{c4}{-30}{20}{130}{133.6}\Rc{c3}{-30}{-28}{130}{133.6}\Rc{c2}{25}{30}{130}{133.6}\Rc{c3}{20}{25}{130}{133.6}
\Rc{c1}{-15}{65}{127}{130}\Rc{c2}{-3}{45}{127}{130}\Rc{c3}{45}{60}{127}{130}
\Rc{c1}{-20}{62}{125}{127}\Rc{c2}{-12}{-3}{125}{127}\Rc{c3}{-3}{5}{125}{127}\Rc{c4}{5}{58}{125}{127}\Rc{c3}{55}{60}{125}{127}
\Rc{c1}{-40}{60}{122}{125}\Rc{c2}{-36}{-32}{122}{125}\Rc{c3}{-32}{-28}{122}{125}\Rc{c4}{-28}{52}{122}{125}\Rc{c3}{52}{56}{122}{125}
\Rc{c1}{-47}{52}{120}{122}\Rc{c2}{-43}{-38}{120}{122}\Rc{c3}{-38}{-35}{120}{122}\Rc{c4}{-35}{47}{120}{122}\Rc{c3}{47}{50}{120}{122}
\Rc{c1}{-42}{48}{117}{120}\Rc{c2}{-40}{-35}{117}{120}\Rc{c4}{-35}{34}{117}{120}\Rc{c3}{34}{40}{117}{120}
\Rc{c1}{-30}{45}{114}{117}\Rc{c2}{-28}{-15}{114}{117}\Rc{c3}{-15}{25}{114}{117}\Rc{c2}{25}{35}{114}{117}
\Rc{c1}{-25}{47}{111}{114}\Rc{c2}{-15}{5}{111}{114}\Rc{c3}{5}{20}{111}{114}\Rc{c2}{20}{40}{111}{114}
\Rc{c1}{-32}{37}{108}{111}\Rc{c2}{-22}{-5}{108}{111}\Rc{c3}{-5}{20}{108}{111}\Rc{c2}{20}{30}{108}{111}
\Rc{c1}{-22}{15}{105}{108}\Rc{c1}{-70}{-68}{127}{130}
\Bk{c4}{(-82,0)(82,10)(85,25)(85,75)(82,79)(60,76)(47,75)(30,73)(22,70)(10,68)(5,73)(2,76)(-15,76.5)(-27,79)(-63,76.5)(-70,73)(-78,70)(-80,58)(-84,45)(-80,25)(-82,0)}
\Rc{c1}{-63}{-60}{76.5}{79.5}\Rc{c1}{-75}{-73}{76.5}{79.5}\Rc{c3}{-40}{-37}{76.5}{79}\Rc{c2}{-37}{-33}{76.5}{79}\Rc{c1}{-33}{-27}{76.5}{79}\Rc{c1}{-17}{-13}{73}{76}\Rc{c3}{-25}{-17}{73}{76}\Rc{c1}{32}{36}{73}{76}\Rc{c1}{45}{50}{73}{76}\Rc{c1}{64}{70}{76.5}{79}\Rc{c1}{75}{82}{80}{82.5}\Rc{c1}{82}{85}{43}{48}\Rc{c1}{-82}{-78}{40}{42}\Rc{c1}{-82}{-80}{25}{28}\Rc{c1}{-77}{-75}{23}{25}\Rc{c1}{-5}{-3}{62}{67}
\Bk{c5}{(-76,0)(80,20)(82,72)(78,75)(55,72)(15,68)(5,65)(-5,68)(-15,72)(-30,75)(-65,74)(-72,70)(-76,60)(-76,0)}
\Bk{c6}{(-72,0)(79,20)(80,70)(75,73)(52,70)(30,66)(12,63)(0,61)(-15,64)(-28,68)(-35,70)(-65,73)(-70,68)(-72,0)}
\Rc{c5}{-60}{-40}{12}{35}\Rc{c4}{-55}{-48}{22}{37}\Rc{c0}{-53}{-50}{20}{33}\Rc{c6}{-48}{-40}{17}{36}\Rc{c5}{-28}{-22}{58}{62}\Rc{c0}{-10}{-5}{62}{64}\Rc{c4}{-13}{-8}{60}{62}\Rc{c5}{-40}{-25}{53}{60}\Rc{c0}{-44}{-41}{51}{53}\Rc{c1}{-30}{-28}{54}{57}
\Rc{c6}{60}{70}{3}{30}\Rc{c5}{70}{75}{3}{35}\Rc{c4}{72}{85}{20}{58}\Rc{c4}{73}{82}{5}{20}\Rc{c0}{76}{78}{8}{16}\Rc{c0}{75}{80}{30}{45}\Rc{c6}{68}{73}{38}{50}\Rc{c5}{70}{78}{50}{68}\Rc{c4}{75}{80}{50}{60}\Rc{c1}{77}{79}{39}{42}\Rc{c1}{83}{85}{45}{47}
\Bk{c7}{(-72,42)(-47,50)(-45,55)(-38,60)(-30,64)(-40,68)(-70,63)(-72,42)}
\Bk{c7}{(-40,15)(59,20)(65,30)(67,47)(72,55)(78,68)(52,65)(30,62)(7,59)(-22,56)(-47,50)(-60,40)(-40,15)}
\Rc{c7}{-40}{-20}{13}{15}\Rc{c6}{-40}{-15}{15}{20}
\Rc{c7}{-73}{-60}{27}{40}\Rc{c7}{-75}{-50}{30}{35}
\Rc{c7}{-80}{-45}{0}{3}\Rc{c7}{-45}{62}{0}{13}\Rc{c7}{70}{80}{0}{8}\Rc{c4}{-85}{-80}{0}{3}\Rc{c6}{-80}{-45}{3}{12}\Rc{c5}{-62}{-55}{5}{9}
\Rc{c8}{-55}{45}{0}{3}\Rc{c8}{35}{55}{3}{8}\Rc{c8}{25}{40}{8}{11}
\Rc{c9}{-42}{32}{0}{3}\Rc{c9}{-20}{35}{3}{8}\Rc{c0}{64}{66}{0}{3}\Rc{c0}{68}{72}{2}{5}
\Rc{c8}{10}{47}{48}{51}\Rc{c8}{-27}{42}{45}{48}\Rc{c8}{-27}{28}{42}{45}
\Ct{(-75,62)(-73,65)(-74,55)(-78,50)(-78,55)(-76,60)(-75,62)}
\Ct{(-80,48)(-75,55)(-65,57)(-56,52)(-60,46)(-70,42)(-78,44)(-80,48)}
\Ct{(-74,50)(-68,52)(-62,50)(-66,47)(-74,50)}
\Ct{(-70,49)(-66,51)(-64,48)(-70,49)}
\Ct{(-78,35)(-72,45)(-65,46)(-42,43)(-55,40)(-68,36)(-78,35)}
\Ct{(-74,36)(-70,42)(-62,44)(-55,42)(-60,36)(-74,34)(-74,36)}
\Ct{(-80,28)(-78,32)(-72,38)(-68,35)(-72,30)(-78,28)(-80,28)}
\Ct{(-68,31)(-60,34)(-55,34)(-58,28)(-55,24)(-65,26)(-72,27)(-68,31)}
\Ct{(-52,32)(-45,36)(-30,36)(-15,38)(5,38)(15,35)(10,32)(-8,30)(-25,26)(-40,26)(-50,28)(-52,32)}
\Ct{(-40,33)(-33,34)(-28,32)(-35,31)(-40,33)}
\Ct{(-16,30)(-8,31)(5,30)(5,26)(-10,26)(-16,30)}
\Ct{(-24,43)(-15,44)(5,45)(18,43)(5,41)(-15,40)(-24,42)(-24,43)}
\Ct{(20,33)(25,37)(40,39)(53,39)(45,35)(30,32)(22,30)(20,33)}
\Ct{(-40,1)(-25,3)(-15,7)(0,9)(20,8)(40,8)(58,6)(65,1)}
\Ct{(30,0.5)(40,3)(50,4)(58,1)}
\Ct{(25,0.5)(35,2)(45,2)(55,0.5)}
\Ct{(-75,1)(-72,3)(-68,1)}
\Ct{(72,1)(76,2)(80,1)}
}
\begin{document}
\begin{tikzpicture}[x=1pt,y=1pt]
\path (0,0) rectangle (677.25pt,957.75pt);
\hm{71.7}{284.3}{QDT, REF, Temp. Adv., Feb}{a)}{0}{2.0e-04}{\dataA}
\cb{355.3}{284.3}{La}
\hm{525.3}{284.3}{QDT, REF, Temp. Adv., Oct}{b)}{0}{2.0e-04}{\dataB}
\cb{808.7}{284.3}{La}
\hm{71.7}{603.3}{QDT, REF, Adiab. Heat., Feb}{c)}{0}{5.0e-05}{\dataC}
\cb{355.3}{603.3}{Lb}
\hm{525.3}{603.3}{QDT, REF, Adiab. Heat., Oct}{d)}{0}{5.0e-05}{\dataD}
\cb{808.7}{603.3}{Lb}
\hm{71.7}{923.3}{QDT GW Heating, Feb}{e)}{0}{2.0e-04}{\dataE}
\cb{355.3}{923.3}{La}
\hm{525.3}{923.3}{QDT GW Heating, Oct}{f)}{0}{2.0e-04}{\dataF}
\cb{808.7}{923.3}{La}
\hm{68.7}{1242}{QDT Solar Heating, Feb}{g)}{0}{4.0e-05}{\dataG}
\cb{352.3}{1242}{Lc}
\hm{522.7}{1242}{QDT Solar Heating, Oct}{h)}{0}{4.0e-05}{\dataH}
\cb{805.3}{1242}{Lc}
\end{tikzpicture}
\end{document}
